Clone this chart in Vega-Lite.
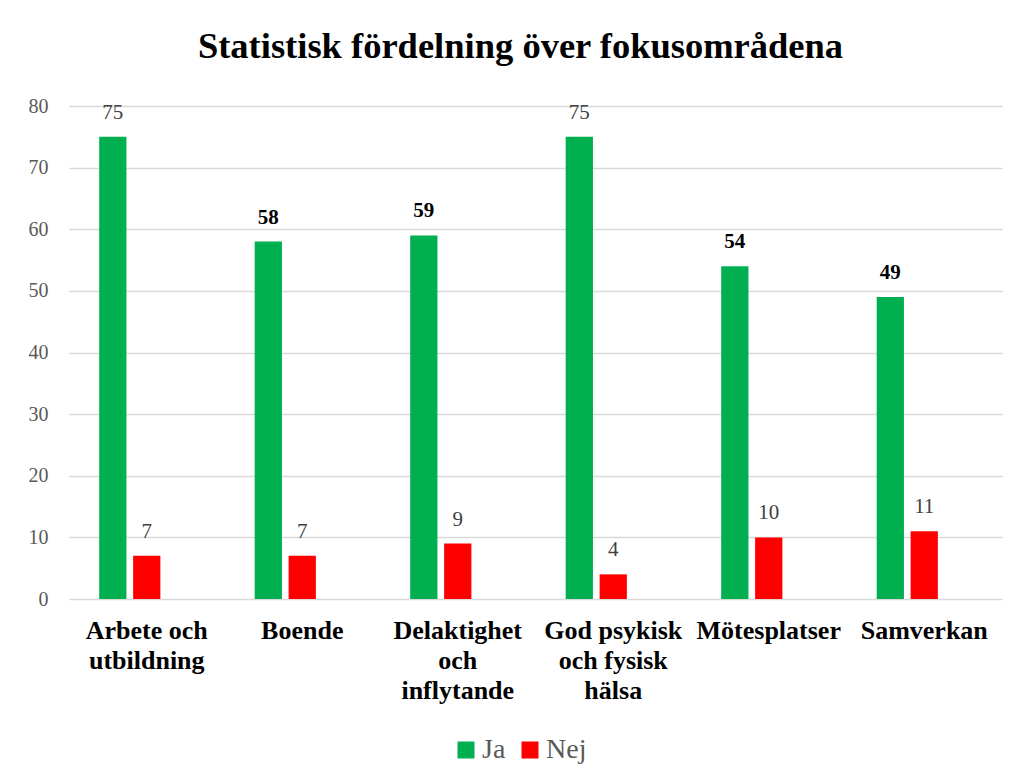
{
  "$schema": "https://vega.github.io/schema/vega-lite/v6.json",
  "autosize": {"type": "none"},
  "padding": {"left": 69, "top": 106, "right": 16, "bottom": 183},
  "width": 933,
  "height": 493,
  "background": "white",
  "title": {
    "text": "Statistisk fördelning över fokusområdena",
    "font": "Liberation Serif, serif",
    "fontSize": 36.5,
    "fontWeight": "bold",
    "color": "#000000",
    "anchor": "middle",
    "baseline": "alphabetic",
    "offset": 2,
    "dx": -15
  },
  "config": {
    "view": {"stroke": null},
    "font": "Liberation Serif, serif",
    "text": {"font": "Liberation Serif, serif"},
    "legend": {"labelFont": "Liberation Serif, serif"}
  },
  "data": {
    "values": [
      {"kategori": "Arbete och utbildning", "serie": "Ja", "antal": 75},
      {"kategori": "Arbete och utbildning", "serie": "Nej", "antal": 7},
      {"kategori": "Boende", "serie": "Ja", "antal": 58},
      {"kategori": "Boende", "serie": "Nej", "antal": 7},
      {"kategori": "Delaktighet och inflytande", "serie": "Ja", "antal": 59},
      {"kategori": "Delaktighet och inflytande", "serie": "Nej", "antal": 9},
      {"kategori": "God psykisk och fysisk hälsa", "serie": "Ja", "antal": 75},
      {"kategori": "God psykisk och fysisk hälsa", "serie": "Nej", "antal": 4},
      {"kategori": "Mötesplatser", "serie": "Ja", "antal": 54},
      {"kategori": "Mötesplatser", "serie": "Nej", "antal": 10},
      {"kategori": "Samverkan", "serie": "Ja", "antal": 49},
      {"kategori": "Samverkan", "serie": "Nej", "antal": 11}
    ]
  },
  "encoding": {
    "x": {
      "field": "kategori",
      "type": "nominal",
      "sort": null,
      "scale": {"paddingInner": 0, "paddingOuter": 0},
      "axis": {
        "title": null,
        "domain": false,
        "ticks": false,
        "labelAngle": 0,
        "labelFont": "Liberation Serif, serif",
        "labelFontSize": 26,
        "labelFontWeight": "bold",
        "labelColor": "#000000",
        "labelPadding": 18,
        "labelLineHeight": 30,
        "labelBaseline": "top",
        "labelLimit": 0,
        "labelExpr": "datum.value == 'Arbete och utbildning' ? ['Arbete och', 'utbildning'] : datum.value == 'Delaktighet och inflytande' ? ['Delaktighet', 'och', 'inflytande'] : datum.value == 'God psykisk och fysisk hälsa' ? ['God psykisk', 'och fysisk', 'hälsa'] : datum.value"
      }
    },
    "xOffset": {
      "field": "serie",
      "type": "nominal",
      "scale": {"domain": ["Ja", "Nej", "tom"], "paddingInner": 0.197, "paddingOuter": 0.89}
    },
    "y": {
      "field": "antal",
      "type": "quantitative",
      "scale": {"domain": [0, 80], "nice": false},
      "axis": {
        "title": null,
        "values": [0, 10, 20, 30, 40, 50, 60, 70, 80],
        "domain": false,
        "ticks": false,
        "grid": true,
        "gridColor": "#d9d9d9",
        "gridWidth": 1.5,
        "labelFont": "Liberation Serif, serif",
        "labelFontSize": 20,
        "labelColor": "#595959",
        "labelPadding": 21
      }
    }
  },
  "layer": [
    {
      "mark": {"type": "bar"},
      "encoding": {
        "color": {
          "field": "serie",
          "type": "nominal",
          "scale": {"domain": ["Ja", "Nej"], "range": ["#00B050", "#FF0000"]},
          "legend": {
            "title": null,
            "orient": "none",
            "legendX": 383,
            "legendY": 630,
            "direction": "horizontal",
            "symbolType": "square",
            "symbolSize": 289,
            "symbolStrokeWidth": 0,
            "labelFont": "Liberation Serif, serif",
            "labelFontSize": 28,
            "labelColor": "#595959",
            "labelOffset": 2,
            "columnPadding": 10
          }
        }
      }
    },
    {
      "transform": [{"filter": "datum.serie == 'Ja' && datum.antal < 70"}],
      "mark": {"type": "text", "font": "Liberation Serif, serif", "baseline": "alphabetic", "dy": -18, "fontSize": 21, "fontWeight": "bold", "color": "#000000"},
      "encoding": {"text": {"field": "antal", "type": "quantitative"}}
    },
    {
      "transform": [{"filter": "!(datum.serie == 'Ja' && datum.antal < 70)"}],
      "mark": {"type": "text", "font": "Liberation Serif, serif", "baseline": "alphabetic", "dy": -18, "fontSize": 21, "color": "#404040"},
      "encoding": {"text": {"field": "antal", "type": "quantitative"}}
    }
  ]
}
